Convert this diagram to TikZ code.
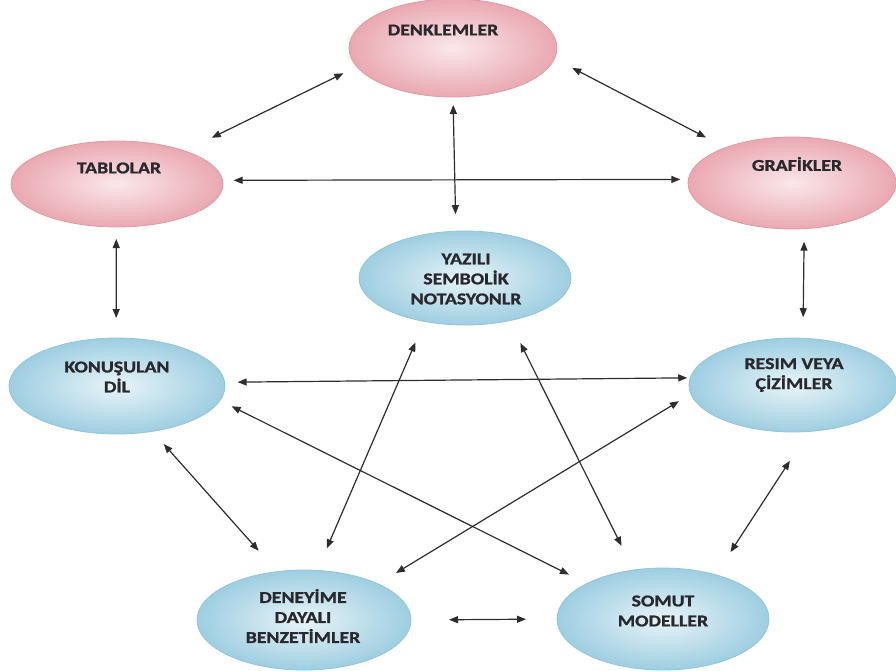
\documentclass[tikz,border=0pt]{standalone}
\usepackage{fontspec}
\newfontfamily\lblfont{Carlito}[FakeStretch=1.2, BoldFeatures={FakeBold=1.2}]
\usetikzlibrary{arrows.meta,shapes.geometric}

\definecolor{pinkin}{RGB}{250,232,234}
\definecolor{pinkout}{RGB}{234,168,178}
\definecolor{pinkline}{RGB}{220,156,166}
\definecolor{bluein}{RGB}{232,244,248}
\definecolor{blueout}{RGB}{158,206,225}
\definecolor{blueline}{RGB}{148,196,216}
\definecolor{txtgray}{RGB}{40,40,45}
\definecolor{arrgray}{RGB}{45,45,45}

\tikzset{every picture/.style={line width=0.75pt}}
\tikzset{
  ovalbase/.style={ellipse, inner sep=0pt, outer sep=0pt, line width=0.8pt},
  pinkoval/.style={ovalbase, shade, inner color=pinkin, outer color=pinkout, draw=pinkline},
  blueoval/.style={ovalbase, shade, inner color=bluein, outer color=blueout, draw=blueline},
  lbl/.style={inner sep=0pt, align=center, text=txtgray, font=\lblfont\bfseries\fontsize{16.5}{20}\selectfont},
  biarr/.style={draw=arrgray, line width=1.2pt, {Triangle[length=9pt,width=7pt]}-{Triangle[length=9pt,width=7pt]}}
}

\begin{document}
\begin{tikzpicture}[x=1pt,y=1pt,yscale=-1,xscale=1]
\useasboundingbox (0,0) rectangle (896,670);

%Shape: Ellipse (pink)
\node [pinkoval, minimum width=208, minimum height=98] (den) at (453,48) {};
\node [pinkoval, minimum width=212, minimum height=86] (tab) at (117,184) {};
\node [pinkoval, minimum width=208, minimum height=92] (gra) at (792,183) {};
%Shape: Ellipse (blue)
\node [blueoval, minimum width=212, minimum height=94] (yaz) at (465,278) {};
\node [blueoval, minimum width=216, minimum height=96] (kon) at (117,386) {};
\node [blueoval, minimum width=208, minimum height=94] (res) at (793,385) {};
\node [blueoval, minimum width=214, minimum height=100] (dey) at (304,620) {};
\node [blueoval, minimum width=212, minimum height=102] (som) at (663,619) {};

% Text Node
\node [lbl] (denT) at (443,30) {DENKLEMLER};
% Text Node
\node [lbl] (tabT) at (119,168) {TABLOLAR};
% Text Node
\node [lbl] (graT) at (797,164) {GRAFİKLER};
% Text Node
\node [lbl] (yazT) at (466,279) {YAZILI\\SEMBOLİK\\NOTASYONLR};
% Text Node
\node [lbl] (konT) at (117,377) {KONUŞULAN\\DİL};
% Text Node
\node [lbl] (resT) at (794,375) {RESIM VEYA\\ÇİZİMLER};
% Text Node
\node [lbl] (deyT) at (303,616) {DENEYİME\\DAYALI\\BENZETİMLER};
% Text Node
\node [lbl] (somT) at (663,611) {SOMUT\\MODELLER};

%Straight Lines
\draw [biarr, shorten <=15pt, shorten >=30pt] (den.191) -- (tab.26);
\draw [biarr, shorten <=20pt, shorten >=22pt] (den.354) -- (gra.152);
\draw [biarr, shorten <=8pt, shorten >=17pt] (den.270) -- (yaz.101);
\draw [biarr, shorten <=11pt, shorten >=8pt] (tab.2) -- (gra.178);
\draw [biarr, shorten <=12pt, shorten >=20pt] (tab.269) -- (kon.91);
\draw [biarr, shorten <=13pt, shorten >=21pt] (gra.285) -- (res.78);
\draw [biarr, shorten <=13pt, shorten >=3pt] (kon.2) -- (res.176);
\draw [biarr, shorten <=17pt, shorten >=28pt] (kon.308) -- (dey.119);
\draw [biarr, shorten <=13pt, shorten >=20pt] (kon.352) -- (som.155);
\draw [biarr, shorten <=23pt, shorten >=24pt] (yaz.227) -- (dey.75);
\draw [biarr, shorten <=25pt, shorten >=27pt] (yaz.316) -- (som.121);
\draw [biarr, shorten <=14pt, shorten >=21pt] (res.185) -- (dey.26);
\draw [biarr, shorten <=35pt, shorten >=27pt] (res.289) -- (som.40);
\draw [biarr, shorten <=38pt, shorten >=31pt] (dey.0) -- (som.180);

\end{tikzpicture}
\end{document}
